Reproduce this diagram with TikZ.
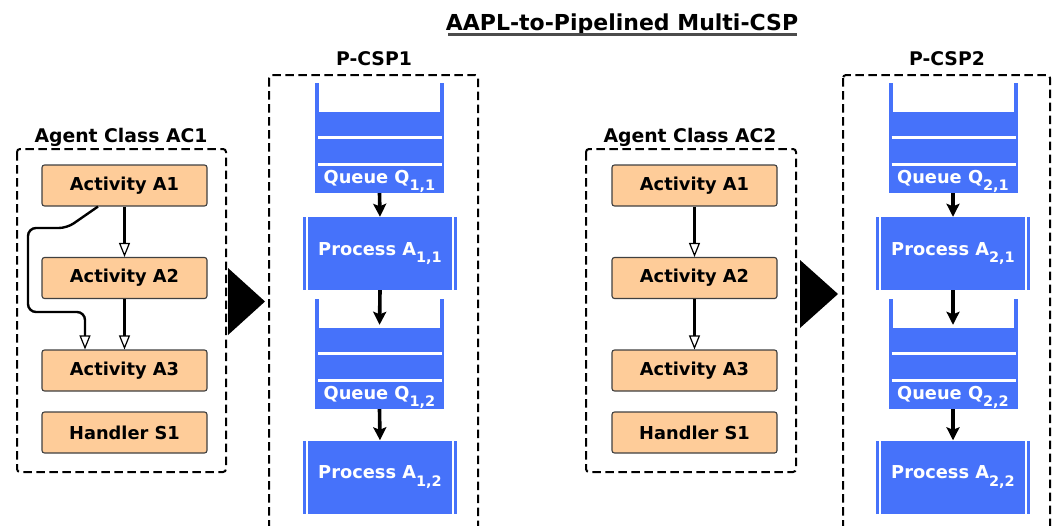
\documentclass[tikz,border=0pt]{standalone}
\usepackage{fontspec}
\setmainfont{DejaVu Sans}
\usetikzlibrary{arrows.meta}
\definecolor{actfill}{RGB}{254,204,153}
\definecolor{procblue}{RGB}{70,114,250}

% lowered index, e.g. Q_{1,1}
\newcommand\lowidx[1]{\raisebox{-7.5pt}{\fontsize{14.5}{14}\selectfont #1}}

% queue: #1 name, #2 centre x, #3 top y, #4 label
\newcommand\queuebox[4]{%
  \fill[procblue] (#2-64.5,#3) rectangle (#2-60.5,#3+29);
  \fill[procblue] (#2+60.5,#3) rectangle (#2+64.5,#3+29);
  \node[qbody] (#1) at (#2,#3+69.5) {};
  \draw[white,line width=3pt] (#2-61.5,#3+54) -- (#2+62.5,#3+54);
  \draw[white,line width=3pt] (#2-61.5,#3+81) -- (#2+62.5,#3+81);
  \node[text=white,anchor=base,inner sep=0pt] at (#2,#3+100) {#4};
}
% process: #1 name, #2 centre x, #3 centre y, #4 label
\newcommand\procbox[4]{%
  \node[proc] (#1) at (#2,#3) {#4};
  \draw[white,line width=2pt] ([xshift=4.5pt]#1.north west) -- ([xshift=4.5pt]#1.south west);
  \draw[white,line width=2pt] ([xshift=-4.5pt]#1.north east) -- ([xshift=-4.5pt]#1.south east);
}

\begin{document}
\begin{tikzpicture}[x=1pt,y=-1pt,
  font=\bfseries\fontsize{17.8}{20}\selectfont,
  activity/.style={draw=black!75,line width=1.1pt,fill=actfill,rounded corners=2.5pt,
    minimum width=165pt,minimum height=41pt,inner sep=0pt},
  qbody/.style={fill=procblue,minimum width=129pt,minimum height=81pt,inner sep=0pt},
  proc/.style={fill=procblue,text=white,minimum width=154pt,minimum height=73pt,inner sep=0pt},
  dashbox/.style={dash pattern=on 8.5pt off 4.5pt,line width=2pt,rounded corners=3pt},
  conn/.style={line width=2.4pt,-{Triangle[fill=white,length=14pt,width=11pt,line width=1.2pt]}},
  flow/.style={line width=3.6pt,-{Stealth[length=13pt,width=13pt,inset=2.5pt]}},
  label/.style={anchor=base,inner sep=0pt,font=\bfseries\fontsize{18.8}{20}\selectfont},
]
\useasboundingbox (0,0) rectangle (1052,525);
\clip (0,0) rectangle (1052,525);

% title
\node[anchor=base,inner sep=0pt,font=\bfseries\fontsize{22}{24}\selectfont] (title) at (622,30) {AAPL-to-Pipelined Multi-CSP};
\draw[black!70,line width=2.2pt] (448,34.5) -- (797,34.5);

% ---------- Agent class AC1 ----------
\node[label] (ac1label) at (121,142) {Agent Class AC1};
\draw[dashbox] (17,149) rectangle (226,472);
\node[activity] (a1) at (124.5,185.5) {Activity A1};
\node[activity] (a2) at (124.5,278) {Activity A2};
\node[activity] (a3) at (124.5,370.5) {Activity A3};
\node[activity] (s1) at (124.5,432.5) {Handler S1};
\draw[conn] (a1) -- (a2);
\draw[conn] (a2) -- (a3);
\draw[conn,rounded corners=8pt] ([xshift=-26.5pt]a1.south) -- (67,228) -- (28,228) -- (28,312)
  -- (85,312) -- ([xshift=-39.5pt]a3.north);

% transformation arrow
\fill (228,268) -- (228,335) -- (265,301.5) -- cycle;

% ---------- P-CSP1 ----------
\node[label] (pcsp1label) at (374,65) {P-CSP1};
\draw[dashbox] (269,75) rectangle (478,545);
\queuebox{q11}{379.5}{83}{Queue Q\lowidx{1,1}}
\procbox{p11}{380}{253.5}{Process A\lowidx{1,1}}
\queuebox{q12}{379.5}{299}{Queue Q\lowidx{1,2}}
\procbox{p12}{380}{477}{Process A\lowidx{1,2}}
\draw[flow] (q11.south) -- (p11.north);
\draw[flow,shorten >=3pt] (p11.south) -- (q12.north);
\draw[flow] (q12.south) -- (p12.north);

% ---------- Agent class AC2 ----------
\node[label] (ac2label) at (690,142) {Agent Class AC2};
\draw[dashbox] (586,149) rectangle (796,472);
\node[activity] (b1) at (694.5,185.5) {Activity A1};
\node[activity] (b2) at (694.5,278) {Activity A2};
\node[activity] (b3) at (694.5,370.5) {Activity A3};
\node[activity] (t1) at (694.5,432.5) {Handler S1};
\draw[conn] (b1) -- (b2);
\draw[conn] (b2) -- (b3);

% transformation arrow
\fill (800,260) -- (800,328) -- (838,294) -- cycle;

% ---------- P-CSP2 ----------
\node[label] (pcsp2label) at (947,65) {P-CSP2};
\draw[dashbox] (843,75) rectangle (1050,545);
\queuebox{q21}{953}{83}{Queue Q\lowidx{2,1}}
\procbox{p21}{953}{253.5}{Process A\lowidx{2,1}}
\queuebox{q22}{953}{299}{Queue Q\lowidx{2,2}}
\procbox{p22}{953}{477}{Process A\lowidx{2,2}}
\draw[flow] (q21.south) -- (p21.north);
\draw[flow,shorten >=3pt] (p21.south) -- (q22.north);
\draw[flow] (q22.south) -- (p22.north);
\end{tikzpicture}
\end{document}
